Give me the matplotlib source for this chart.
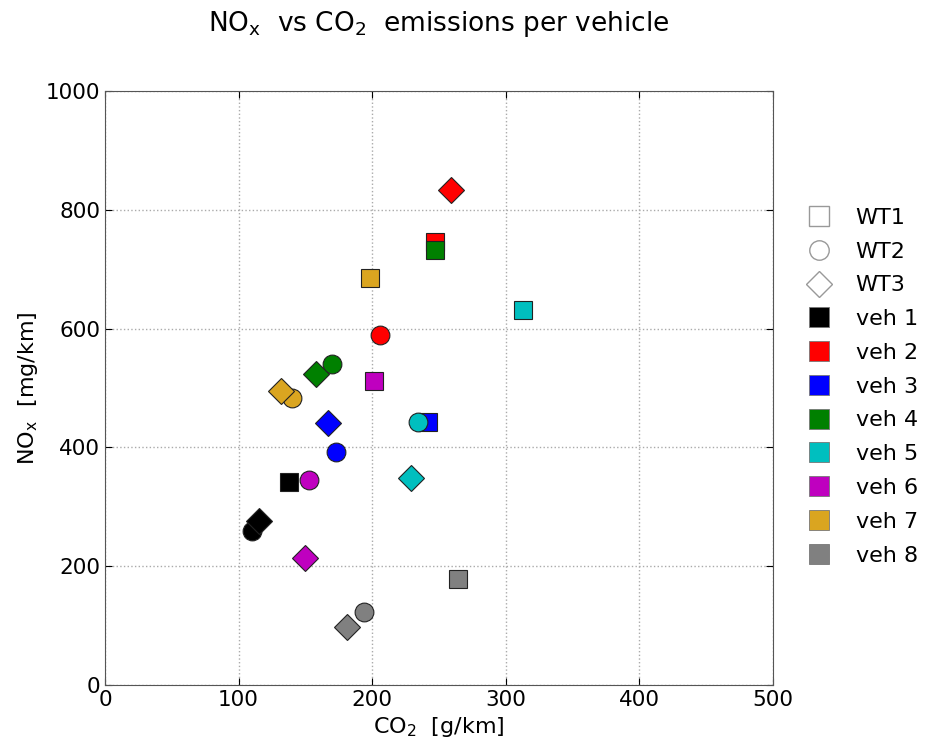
import matplotlib
matplotlib.use("Agg")
import matplotlib.pyplot as plt
from matplotlib.lines import Line2D

vehicles = ["veh 1", "veh 2", "veh 3", "veh 4", "veh 5", "veh 6", "veh 7", "veh 8"]
colors = ["black", "red", "blue", "green", "c", "m", "goldenrod", "gray"]
tests = ["WT1", "WT2", "WT3"]
markers = ["s", "o", "D"]

co2_wt1 = [138, 247, 242, 247, 313, 201, 198, 264]
nox_wt1 = [342, 746, 443, 732, 631, 512, 685, 178]
co2_wt2 = [110, 206, 173, 170, 234, 153, 140, 194]
nox_wt2 = [259, 589, 392, 540, 443, 345, 483, 123]
co2_wt3 = [115, 259, 167, 158, 229, 150, 132, 181]
nox_wt3 = [276, 833, 441, 523, 348, 214, 495, 98]

co2 = [co2_wt1, co2_wt2, co2_wt3]
nox = [nox_wt1, nox_wt2, nox_wt3]

fig = plt.figure(figsize=(9.26, 7.45), dpi=100)
ax = fig.add_axes([0.1134, 0.0805, 0.7214, 0.7974])

for i, c in enumerate(colors):
    for j, m in enumerate(markers):
        ax.plot(co2[j][i], nox[j][i], linestyle="none", marker=m, markersize=13.5,
                markerfacecolor=c, markeredgecolor="#222222", markeredgewidth=0.8)

ax.set_xlim(0, 500)
ax.set_ylim(0, 1000)
ax.set_xticks([0, 100, 200, 300, 400, 500])
ax.set_yticks([0, 200, 400, 600, 800, 1000])
ax.grid(True, linestyle=":", color="#aaaaaa", linewidth=1)
ax.tick_params(direction="in", top=True, right=True, labelsize=15.5, length=5)
for s in ax.spines.values():
    s.set_color("#555555")
ax.set_xlabel("CO$_2$  [g/km]", fontsize=16)
ax.set_ylabel("NO$_\\mathrm{x}$  [mg/km]", fontsize=16)
fig.text(0.1134 + 0.7214 / 2, 0.968, "NO$_\\mathrm{x}$  vs CO$_2$  emissions per vehicle",
         fontsize=19, ha="center", va="center")

handles = []
for t, m in zip(tests, markers):
    handles.append(Line2D([], [], linestyle="none", marker=m, markersize=13.5 if m == "D" else 14,
                          markerfacecolor="white", markeredgecolor="#999999", markeredgewidth=1, label=t))
for v, c in zip(vehicles, colors):
    handles.append(Line2D([], [], linestyle="none", marker="s", markersize=14,
                          markerfacecolor=c, markeredgecolor="#777777", markeredgewidth=0.6, label=v))
fig.legend(handles=handles, loc="center left", bbox_to_anchor=(0.848, 0.481), frameon=False,
           fontsize=16, handletextpad=1.07, labelspacing=0.62, handlelength=1.2)

fig.savefig("out.png", dpi=100)
